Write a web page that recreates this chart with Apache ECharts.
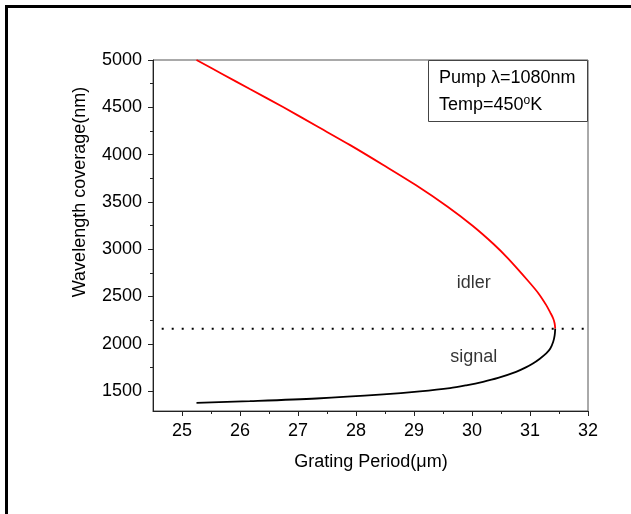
<!DOCTYPE html>
<html>
<head>
<meta charset="utf-8">
<script src="https://cdn.jsdelivr.net/npm/echarts@6/dist/echarts.min.js"></script>
<style>
  html, body { margin: 0; padding: 0; background: #fff; }
  #chart { width: 631px; height: 514px; }
</style>
</head>
<body>
<div id="chart"></div>
<script>
// Quasi-phase-matching tuning curve: grating period (µm) vs. wavelength (nm)
const idlerPeriod = [25.25, 25.70, 26.17, 26.75, 27.32, 27.90, 28.47, 29.03, 29.58, 30.01, 30.38, 30.62, 30.98, 31.15, 31.28, 31.35, 31.40, 31.425, 31.435];
const idlerWavelength = [5000, 4850, 4693, 4500, 4302, 4100, 3890, 3678, 3449, 3248, 3050, 2903, 2656, 2530, 2409, 2330, 2268, 2215, 2160];

const signalPeriod = [31.435, 31.425, 31.40, 31.35, 31.28, 31.17, 31.05, 30.92, 30.76, 30.45, 30.19, 29.90, 29.62, 29.10, 28.47, 27.32, 26.17, 25.25];
const signalWavelength = [2160, 2090, 2022, 1950, 1898, 1843, 1792, 1748, 1704, 1640, 1599, 1562, 1532, 1497, 1465, 1422, 1394, 1376];

// Degeneracy line (2 x pump wavelength)
const degeneracyPeriod = [24.65, 32];
const degeneracyWavelength = [2160, 2160];

const xMajorTicks = [25, 26, 27, 28, 29, 30, 31, 32];
const xMinorTicks = [25.5, 26.5, 27.5, 28.5, 29.5, 30.5, 31.5];
const yMajorTicks = [1500, 2000, 2500, 3000, 3500, 4000, 4500, 5000];
const yMinorTicks = [1750, 2250, 2750, 3250, 3750, 4250, 4750];

const curveLabels = [
  { name: 'idler', x: 30.03, y: 2642 },
  { name: 'signal', x: 30.03, y: 1860 }
];

const FONT = '"Liberation Sans", Arial, sans-serif';
const zip = (a, b) => a.map((v, i) => [v, b[i]]);
const plain = v => String(v);

const chart = echarts.init(document.getElementById('chart'), null, { renderer: 'canvas' });

const baseX = { type: 'value', min: 24.5, max: 32, splitLine: { show: false } };
const baseY = { type: 'value', min: 1290, max: 5000, splitLine: { show: false } };

chart.setOption({
  animation: false,
  backgroundColor: '#fff',
  grid: {
    left: 153, right: 43, top: 60, bottom: 103,
    show: true, borderColor: '#555', borderWidth: 1, backgroundColor: 'transparent'
  },
  xAxis: [
    Object.assign({}, baseX, {
      position: 'bottom',
      axisLine: { show: true, lineStyle: { color: '#222', width: 1 } },
      axisTick: { show: true, length: 5, customValues: xMajorTicks, lineStyle: { color: '#222' } },
      axisLabel: { show: true, customValues: xMajorTicks, formatter: plain, margin: 11, color: '#000', fontSize: 18, fontFamily: FONT }
    }),
    Object.assign({}, baseX, {
      position: 'bottom',
      axisLine: { show: false },
      axisTick: { show: true, length: 3, customValues: xMinorTicks, lineStyle: { color: '#222' } },
      axisLabel: { show: false }
    })
  ],
  yAxis: [
    Object.assign({}, baseY, {
      position: 'left',
      axisLine: { show: true, lineStyle: { color: '#222', width: 1 } },
      axisTick: { show: true, length: 5, customValues: yMajorTicks, lineStyle: { color: '#222' } },
      axisLabel: { show: true, customValues: yMajorTicks, formatter: plain, margin: 11, color: '#000', fontSize: 18, fontFamily: FONT }
    }),
    Object.assign({}, baseY, {
      position: 'left',
      axisLine: { show: false },
      axisTick: { show: true, length: 3, customValues: yMinorTicks, lineStyle: { color: '#222' } },
      axisLabel: { show: false }
    })
  ],
  series: [
    {
      name: 'degeneracy', type: 'line', xAxisIndex: 0, yAxisIndex: 0,
      data: zip(degeneracyPeriod, degeneracyWavelength),
      symbol: 'none',
      lineStyle: { color: '#000', width: 2, type: [2, 8], cap: 'butt' }
    },
    {
      name: 'idler', type: 'line', xAxisIndex: 0, yAxisIndex: 0,
      data: zip(idlerPeriod, idlerWavelength),
      symbol: 'none', smooth: 0.3,
      lineStyle: { color: '#ff0000', width: 1.8 }
    },
    {
      name: 'signal', type: 'line', xAxisIndex: 0, yAxisIndex: 0,
      data: zip(signalPeriod, signalWavelength),
      symbol: 'none', smooth: 0.3,
      lineStyle: { color: '#000', width: 1.8 }
    },
    {
      name: 'labels', type: 'scatter', xAxisIndex: 0, yAxisIndex: 0,
      data: curveLabels.map(d => ({ value: [d.x, d.y], name: d.name })),
      symbolSize: 0,
      label: {
        show: true, position: 'inside', formatter: p => p.name,
        color: '#000', fontSize: 18, fontFamily: FONT
      }
    }
  ],
  graphic: [
    // page frame (top and left edges)
    { type: 'line', shape: { x1: 5, y1: 6.5, x2: 631, y2: 6.5 }, style: { stroke: '#000', lineWidth: 3 } },
    { type: 'line', shape: { x1: 6.5, y1: 5, x2: 6.5, y2: 514 }, style: { stroke: '#000', lineWidth: 3 } },
    // y-axis title
    {
      type: 'text', x: 80, y: 192, rotation: Math.PI / 2,
      style: {
        text: 'Wavelength coverage(nm)', fill: '#000', font: '18px ' + FONT,
        textAlign: 'center', textVerticalAlign: 'middle'
      }
    },
    // x-axis title
    {
      type: 'text', x: 371, y: 462,
      style: {
        text: 'Grating Period(\u03bcm)', fill: '#000', font: '18px ' + FONT,
        textAlign: 'center', textVerticalAlign: 'middle'
      }
    },
    // parameter box
    {
      type: 'rect', shape: { x: 428.5, y: 60.5, width: 159, height: 61 },
      style: { fill: '#fff', stroke: '#444', lineWidth: 1 }
    },
    {
      type: 'text', x: 439, y: 78,
      style: { text: 'Pump \u03bb=1080nm', fill: '#000', font: '18px ' + FONT, textVerticalAlign: 'middle' }
    },
    {
      type: 'text', x: 439, y: 105,
      style: {
        text: '{n|Temp=450}{s|o}{n|K}',
        textVerticalAlign: 'middle',
        rich: {
          n: { fontSize: 18, fontFamily: FONT, fill: '#000', color: '#000', lineHeight: 20 },
          s: { fontSize: 12, fontFamily: FONT, fill: '#000', color: '#000', verticalAlign: 'top', lineHeight: 12 }
        }
      }
    }
  ]
});
</script>
</body>
</html>
